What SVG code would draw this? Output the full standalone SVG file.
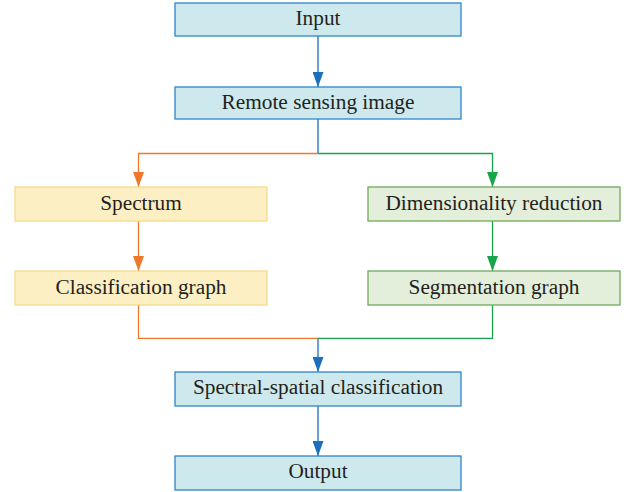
<svg xmlns="http://www.w3.org/2000/svg" width="631" height="492" viewBox="0 0 631 492">
<style>
.b{fill:#cde9ed;stroke:#2f86c8;stroke-width:1.3}
.y{fill:#fdefc4;stroke:#f8d98a;stroke-width:1.3}
.g{fill:#e3efdb;stroke:#6fa95a;stroke-width:1.3}
text{font-family:"Liberation Serif","DejaVu Serif",serif;font-size:21.3px;fill:#231f20;text-anchor:middle}
.lb{fill:none;stroke:#1a70bd;stroke-width:1.3}
.lo{fill:none;stroke:#f0782a;stroke-width:1.3}
.lg{fill:none;stroke:#17a54a;stroke-width:1.3}
</style>
<defs>
<marker id="ab" markerWidth="11" markerHeight="15" refX="5.5" refY="15" markerUnits="userSpaceOnUse" viewBox="0 0 11 15"><path d="M0,0 L11,0 L5.5,15 Z" fill="#1a70bd"/></marker>
<marker id="ao" markerWidth="11" markerHeight="15" refX="5.5" refY="15" markerUnits="userSpaceOnUse" viewBox="0 0 11 15"><path d="M0,0 L11,0 L5.5,15 Z" fill="#f0782a"/></marker>
<marker id="ag" markerWidth="11" markerHeight="15" refX="5.5" refY="15" markerUnits="userSpaceOnUse" viewBox="0 0 11 15"><path d="M0,0 L11,0 L5.5,15 Z" fill="#17a54a"/></marker>
</defs>
<g id="connectors">
<path class="lb" d="M318,36 V87" marker-end="url(#ab)"/>
<path class="lb" d="M318,119 V153.5"/>
<path class="lo" d="M318,153.5 H138.5 V187" marker-end="url(#ao)"/>
<path class="lg" d="M318,153.5 H492.5 V187" marker-end="url(#ag)"/>
<path class="lo" d="M138.5,221 V271" marker-end="url(#ao)"/>
<path class="lg" d="M492.5,221 V271" marker-end="url(#ag)"/>
<path class="lo" d="M138.5,305 V338.3 H318"/>
<path class="lg" d="M492.5,305 V338.3 H318"/>
<path class="lb" d="M318,338.3 V372" marker-end="url(#ab)"/>
<path class="lb" d="M318,406 V456" marker-end="url(#ab)"/>
</g>
<g id="input"><rect class="b" x="175" y="3" width="286" height="33"/><text x="318" y="25">Input</text></g>
<g id="remote"><rect class="b" x="175" y="87" width="286" height="32"/><text x="318" y="108.5">Remote sensing image</text></g>
<g id="spectrum"><rect class="y" x="15" y="187" width="252" height="34"/><text x="141" y="209.5">Spectrum</text></g>
<g id="dimred"><rect class="g" x="368" y="187" width="252" height="34"/><text x="494" y="209.5">Dimensionality reduction</text></g>
<g id="classgraph"><rect class="y" x="15" y="271" width="252" height="34"/><text x="141" y="293.5">Classification graph</text></g>
<g id="seggraph"><rect class="g" x="368" y="271" width="252" height="34"/><text x="494" y="293.5">Segmentation graph</text></g>
<g id="ssclass"><rect class="b" x="175" y="372" width="286" height="34"/><text x="318" y="394">Spectral-spatial classification</text></g>
<g id="output"><rect class="b" x="175" y="456" width="286" height="34"/><text x="318" y="478">Output</text></g>
</svg>
